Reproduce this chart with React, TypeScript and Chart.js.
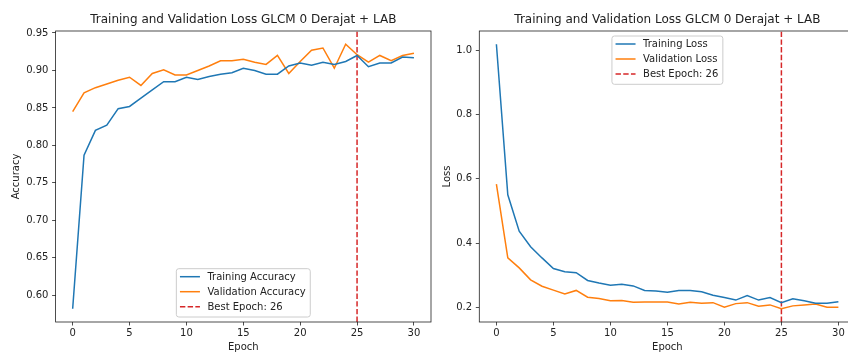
import React, { useEffect, useRef } from "react";
import { Chart, registerables } from "chart.js";

Chart.register(...registerables);

const epochs = [0, 1, 2, 3, 4, 5, 6, 7, 8, 9, 10, 11, 12, 13, 14, 15, 16, 17, 18, 19, 20, 21, 22, 23, 24, 25, 26, 27, 28, 29, 30];
const trainAcc = [0.582, 0.787, 0.820, 0.827, 0.849, 0.852, 0.863, 0.874, 0.885, 0.885, 0.891, 0.888, 0.892, 0.895, 0.897, 0.903, 0.900, 0.895, 0.895, 0.906, 0.910, 0.907, 0.911, 0.908, 0.912, 0.920, 0.905, 0.910, 0.910, 0.918, 0.917];
const valAcc = [0.845, 0.870, 0.877, 0.882, 0.887, 0.891, 0.880, 0.896, 0.901, 0.894, 0.894, 0.900, 0.906, 0.913, 0.913, 0.915, 0.911, 0.908, 0.920, 0.896, 0.912, 0.927, 0.930, 0.903, 0.935, 0.921, 0.911, 0.920, 0.913, 0.920, 0.923];
const trainLoss = [1.018, 0.550, 0.437, 0.389, 0.354, 0.321, 0.311, 0.308, 0.284, 0.276, 0.269, 0.272, 0.267, 0.253, 0.251, 0.247, 0.253, 0.253, 0.249, 0.238, 0.231, 0.223, 0.237, 0.223, 0.231, 0.215, 0.227, 0.221, 0.213, 0.213, 0.218];
const valLoss = [0.583, 0.354, 0.323, 0.286, 0.266, 0.254, 0.242, 0.253, 0.232, 0.228, 0.221, 0.222, 0.216, 0.217, 0.217, 0.217, 0.211, 0.216, 0.213, 0.215, 0.201, 0.212, 0.215, 0.204, 0.208, 0.196, 0.205, 0.208, 0.211, 0.201, 0.201];

const bestEpochX = 25;
const bestEpochLabel = "Best Epoch: 26";
const chartTitle = "Training and Validation Loss GLCM 0 Derajat + LAB";
const accLabels = ["Training Accuracy", "Validation Accuracy"];
const lossLabels = ["Training Loss", "Validation Loss"];
const xTicks = [0, 5, 10, 15, 20, 25, 30];
const accTicks = [0.6, 0.65, 0.7, 0.75, 0.8, 0.85, 0.9, 0.95];
const lossTicks = [0.2, 0.4, 0.6, 0.8, 1.0];

const BLUE = "#1f77b4";
const ORANGE = "#ff7f0e";
const RED = "#d62728";
const INK = "#222222";
const FONT = "'DejaVu Sans', sans-serif";
const FS = 10;

function margins(arrs: number[][]) {
  const all = arrs.flat();
  const lo = Math.min(...all);
  const hi = Math.max(...all);
  const pad = (hi - lo) * 0.05;
  return [lo - pad, hi + pad];
}

const mplPlugin = {
  id: "mpl",
  afterDatasetsDraw(chart: any, _args: any, opts: any) {
    const { ctx, chartArea: a } = chart;
    ctx.save();
    // frame
    ctx.strokeStyle = INK;
    ctx.lineWidth = 0.8;
    ctx.strokeRect(a.left, a.top, a.right - a.left, a.bottom - a.top);
    // title
    ctx.fillStyle = INK;
    ctx.font = `${opts.titleSize}px ${FONT}`;
    ctx.textAlign = "center";
    ctx.textBaseline = "middle";
    ctx.fillText(opts.title, (a.left + a.right) / 2, a.top - 11);
    // legend
    ctx.font = `${FS}px ${FONT}`;
    const ds = chart.data.datasets;
    const widths = ds.map((d: any) => ctx.measureText(d.label).width);
    const maxW = Math.max(...widths);
    const pad = 3.6;
    const handle = 20;
    const gap = 7.5;
    const rowH = 15;
    const bw = pad + handle + gap + maxW + pad + 1;
    const bh = ds.length * rowH + 3.3;
    const bx = (a.left + a.right) / 2 - bw / 2;
    const by = opts.legendLoc === "upper" ? a.top + 5 : a.bottom - 5 - bh;
    ctx.beginPath();
    const r = 2.5;
    ctx.moveTo(bx + r, by);
    ctx.arcTo(bx + bw, by, bx + bw, by + bh, r);
    ctx.arcTo(bx + bw, by + bh, bx, by + bh, r);
    ctx.arcTo(bx, by + bh, bx, by, r);
    ctx.arcTo(bx, by, bx + bw, by, r);
    ctx.closePath();
    ctx.fillStyle = "rgba(255,255,255,0.8)";
    ctx.fill();
    ctx.strokeStyle = "#cccccc";
    ctx.lineWidth = 1;
    ctx.stroke();
    ds.forEach((d: any, i: number) => {
      const cy = by + 8 + i * rowH;
      ctx.beginPath();
      ctx.strokeStyle = d.borderColor;
      ctx.lineWidth = d.borderWidth;
      ctx.setLineDash(d.borderDash || []);
      ctx.moveTo(bx + pad, cy);
      ctx.lineTo(bx + pad + handle, cy);
      ctx.stroke();
      ctx.setLineDash([]);
      ctx.fillStyle = INK;
      ctx.textAlign = "left";
      ctx.textBaseline = "middle";
      ctx.fillText(d.label, bx + pad + handle + gap, cy + 0.5);
    });
    ctx.restore();
  },
};

function makeConfig(
  series: number[][],
  labels: string[],
  yTicks: number[],
  decimals: number,
  yTitle: string,
  yWidth: number,
  yTitlePad: number,
  padRight: number,
  legendLoc: string
): any {
  const [ymin, ymax] = margins(series);
  const colors = [BLUE, ORANGE];
  const datasets: any[] = series.map((s, i) => ({
    label: labels[i],
    data: epochs.map((e, j) => ({ x: e, y: s[j] })),
    borderColor: colors[i],
    backgroundColor: colors[i],
    borderWidth: 1.5,
    pointRadius: 0,
    tension: 0,
    fill: false,
  }));
  datasets.push({
    label: bestEpochLabel,
    data: [
      { x: bestEpochX, y: ymin },
      { x: bestEpochX, y: ymax },
    ],
    borderColor: RED,
    backgroundColor: RED,
    borderWidth: 1.5,
    borderDash: [5.4, 2.3],
    pointRadius: 0,
    fill: false,
  });
  return {
    type: "line",
    data: { datasets },
    options: {
      animation: false,
      responsive: false,
      maintainAspectRatio: false,
      devicePixelRatio: 1,
      layout: { padding: { left: 0, top: 31, right: padRight, bottom: 0 } },
      plugins: {
        legend: { display: false },
        title: { display: false },
        tooltip: { enabled: false },
        mpl: { title: chartTitle, titleSize: 12, legendLoc },
      },
      scales: {
        x: {
          type: "linear",
          min: -1.5,
          max: 31.5,
          afterBuildTicks: (s: any) => {
            s.ticks = xTicks.map((v) => ({ value: v }));
          },
          afterFit: (s: any) => {
            s.height = 32;
          },
          border: { display: false },
          grid: { display: true, drawOnChartArea: false, drawTicks: true, tickLength: 3.5, color: INK, lineWidth: 0.8 },
          ticks: {
            autoSkip: false,
            maxRotation: 0,
            padding: 2,
            color: INK,
            font: { family: FONT, size: FS },
            callback: (v: any) => String(v),
          },
          title: {
            display: true,
            text: "Epoch",
            color: INK,
            font: { family: FONT, size: FS },
            padding: { top: 0, bottom: 0.7 },
          },
        },
        y: {
          type: "linear",
          min: ymin,
          max: ymax,
          afterBuildTicks: (s: any) => {
            s.ticks = yTicks.map((v) => ({ value: v }));
          },
          afterFit: (s: any) => {
            s.width = yWidth;
          },
          border: { display: false },
          grid: { display: true, drawOnChartArea: false, drawTicks: true, tickLength: 3.5, color: INK, lineWidth: 0.8 },
          ticks: {
            autoSkip: false,
            padding: 3.7,
            color: INK,
            font: { family: FONT, size: FS },
            callback: (v: any) => Number(v).toFixed(decimals),
          },
          title: {
            display: true,
            text: yTitle,
            color: INK,
            font: { family: FONT, size: FS },
            padding: { top: yTitlePad, bottom: 0 },
          },
        },
      },
    },
    plugins: [mplPlugin],
  };
}

export default function App() {
  const leftRef = useRef<HTMLCanvasElement>(null);
  const rightRef = useRef<HTMLCanvasElement>(null);

  useEffect(() => {
    document.body.style.margin = "0";
    const c1 = new Chart(
      leftRef.current as HTMLCanvasElement,
      makeConfig([trainAcc, valAcc], accLabels, accTicks, 2, "Accuracy", 55.6, 10.8, 9, "lower")
    );
    const c2 = new Chart(
      rightRef.current as HTMLCanvasElement,
      makeConfig([trainLoss, valLoss], lossLabels, lossTicks, 1, "Loss", 39.3, 1.5, 14.5, "upper")
    );
    return () => {
      c1.destroy();
      c2.destroy();
    };
  }, []);

  return (
    <div
      style={{
        position: "fixed",
        left: 0,
        top: 0,
        width: 848,
        height: 354,
        overflow: "hidden",
        background: "#ffffff",
      }}
    >
      <canvas
        ref={leftRef}
        width={440}
        height={354}
        style={{ position: "absolute", left: 0, top: 0, width: 440, height: 354 }}
      />
      <canvas
        ref={rightRef}
        width={430}
        height={354}
        style={{ position: "absolute", left: 440, top: 0, width: 430, height: 354 }}
      />
    </div>
  );
}
